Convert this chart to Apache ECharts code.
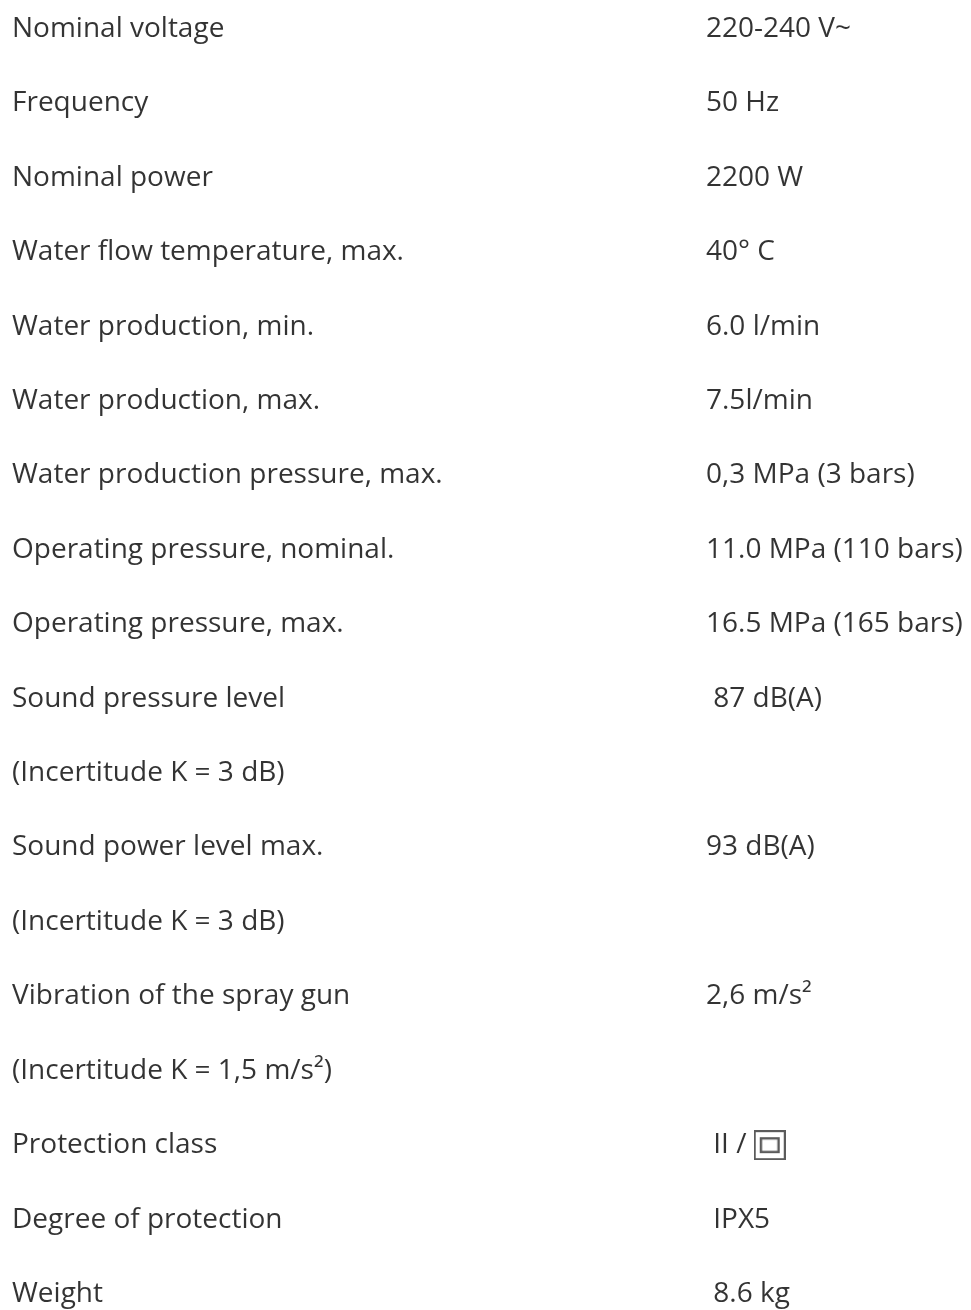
<!DOCTYPE html>
<html>
<head>
<meta charset="utf-8">
<script src="https://cdn.jsdelivr.net/npm/echarts@6/dist/echarts.min.js"></script>
<style>
html,body{margin:0;padding:0;background:#fff;}
#chart{width:971px;height:1310px;}
</style>
</head>
<body>
<div id="chart"></div>
<script>
const labels = [
  "Nominal voltage",
  "Frequency",
  "Nominal power",
  "Water flow temperature, max.",
  "Water production, min.",
  "Water production, max.",
  "Water production pressure, max.",
  "Operating pressure, nominal.",
  "Operating pressure, max.",
  "Sound pressure level",
  "(Incertitude K = 3 dB)",
  "Sound power level max.",
  "(Incertitude K = 3 dB)",
  "Vibration of the spray gun",
  "(Incertitude K = 1,5 m/s²)",
  "Protection class",
  "Degree of protection",
  "Weight"
];
const values = [
  "220-240 V~",
  "50 Hz",
  "2200 W",
  "40° C",
  "6.0 l/min",
  "7.5l/min",
  "0,3 MPa (3 bars)",
  "11.0 MPa (110 bars)",
  "16.5 MPa (165 bars)",
  " 87 dB(A)",
  "",
  "93 dB(A)",
  "",
  "2,6 m/s²",
  "",
  " II / {sq|}",
  " IPX5",
  " 8.6 kg"
];

const FONT = '"Open Sans", "Noto Sans", sans-serif';
const FS = 28;

// double-insulation (class II) symbol, drawn once as a small image
const sym = document.createElement('canvas');
sym.width = 32; sym.height = 30;
(function () {
  const c = sym.getContext('2d');
  c.strokeStyle = '#333';
  c.lineWidth = 2;
  c.strokeRect(1, 1, 30, 28);
  c.lineWidth = 2.4;
  c.strokeRect(7.2, 8.2, 17.6, 13.6);
})();

const chart = echarts.init(document.getElementById('chart'), null, {renderer: 'canvas'});

const labelStyle = {
  show: true,
  position: 'inside',
  align: 'left',
  verticalAlign: 'middle',
  color: '#000',
  fontFamily: FONT,
  fontSize: FS,
  formatter: p => p.data.name,
  rich: {
    sq: {
      width: 32,
      height: 30,
      backgroundColor: { image: sym },
      padding: [0, 0, 0, 0]
    }
  }
};

chart.setOption({
  backgroundColor: '#fff',
  animation: false,
  grid: { left: 12, right: 265, top: 29, bottom: 16 },
  xAxis: { type: 'value', min: 0, max: 1, show: false },
  yAxis: { type: 'value', min: 0, max: labels.length - 1, inverse: true, show: false },
  series: [
    {
      type: 'scatter',
      silent: true,
      symbolSize: 1,
      itemStyle: { color: 'rgba(0,0,0,0)' },
      data: labels.map((t, i) => ({ name: t, value: [0, i] })),
      label: labelStyle
    },
    {
      type: 'scatter',
      silent: true,
      symbolSize: 1,
      itemStyle: { color: 'rgba(0,0,0,0)' },
      data: values.map((t, i) => ({ name: t, value: [1, i] })).filter(d => d.name !== ''),
      label: labelStyle
    }
  ]
});
</script>
</body>
</html>
